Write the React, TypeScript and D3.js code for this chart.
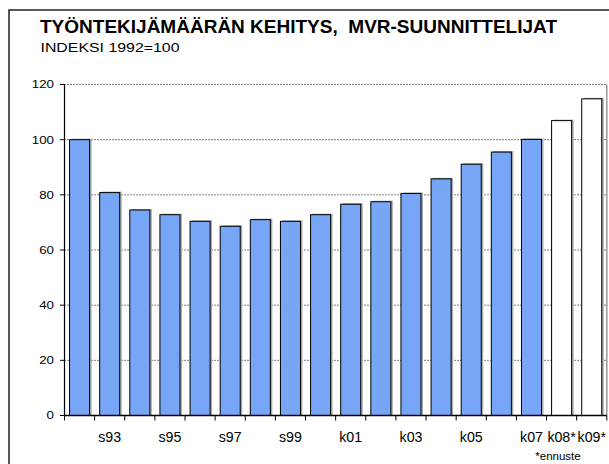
import * as d3 from "d3";

const years = ["1992", "1993", "1994", "1995", "1996", "1997", "1998", "1999", "2000", "2001", "2002", "2003", "2004", "2005", "2006", "2007", "2008", "2009"];
const tickLabels = ["", "s93", "", "s95", "", "s97", "", "s99", "", "k01", "", "k03", "", "k05", "", "k07", "k08*", "k09*"];
const values = [100, 80.8, 74.5, 72.8, 70.4, 68.6, 71.0, 70.4, 72.8, 76.6, 77.5, 80.5, 85.8, 91.1, 95.5, 100.1, 106.9, 114.8];
const forecast = [false, false, false, false, false, false, false, false, false, false, false, false, false, false, false, false, true, true];
const yTicks = [0, 20, 40, 60, 80, 100, 120];

const W = 609;
const H = 464;
const font = "Arial, 'Liberation Sans', sans-serif";

export default function App() {
  const x = d3.scaleBand<string>().domain(years).range([64.5, 606.8]).paddingInner(0.335).paddingOuter(0.1675);
  const y = d3.scaleLinear().domain([0, 120]).range([415.5, 84.5]);
  const step = x.step();
  const left = 64.5;
  const right = 606.8;

  return (
    <div style={{ position: "fixed", left: 0, top: 0 }}>
      <svg width={W} height={H} style={{ display: "block", background: "#fff" }}>
        {/* outer frame, runs off the right and bottom */}
        <path d={`M9,${H + 2}V10H${W + 2}`} fill="none" stroke="#222" strokeWidth={1.5} />

        <text
          x={40}
          y={33.3}
          fontFamily={font}
          fontWeight="bold"
          fontSize={18.5}
          textLength={517}
          lengthAdjust="spacingAndGlyphs"
          style={{ whiteSpace: "pre" }}
        >
          {"TYÖNTEKIJÄMÄÄRÄN KEHITYS,  MVR-SUUNNITTELIJAT"}
        </text>
        <text x={40.5} y={51.7} fontFamily={font} fontSize={12.5} textLength={139} lengthAdjust="spacingAndGlyphs">
          INDEKSI 1992=100
        </text>

        {/* gridlines */}
        {yTicks.filter(t => t > 0).map(t => (
          <line key={t} x1={left} x2={right} y1={y(t)} y2={y(t)} stroke="#000" strokeWidth={1} strokeDasharray="1 2" />
        ))}
        <line x1={right} x2={right} y1={y(120)} y2={y(0)} stroke="#999" strokeWidth={1.5} />

        {/* bars */}
        {values.map((v, i) => {
          const bx = x(years[i])!;
          const by = y(v);
          const bh = y(0) - by;
          return (
            <g key={years[i]}>
              <rect x={bx + 2} y={by - 1} width={x.bandwidth()} height={bh + 1} fill="#aaa" />
              <rect
                x={bx}
                y={by}
                width={x.bandwidth()}
                height={bh}
                fill={forecast[i] ? "#fff" : "#78a6f6"}
                stroke="#000"
                strokeWidth={1}
              />
            </g>
          );
        })}

        {/* y axis */}
        <line x1={left} x2={left} y1={y(120)} y2={y(0)} stroke="#000" strokeWidth={1.2} />
        {yTicks.map(t => (
          <g key={t}>
            <line x1={left - 4.5} x2={left} y1={y(t)} y2={y(t)} stroke="#000" strokeWidth={1} />
            <text
              x={54}
              y={y(t)}
              dy="0.36em"
              textAnchor="end"
              fontFamily={font}
              fontSize={10.8}
              textLength={String(t).length * 7.4}
              lengthAdjust="spacingAndGlyphs"
            >
              {t}
            </text>
          </g>
        ))}

        {/* x axis */}
        <line x1={left} x2={right} y1={y(0)} y2={y(0)} stroke="#000" strokeWidth={1.5} />
        {d3.range(years.length + 1).map(i => (
          <line key={i} x1={left + i * step} x2={left + i * step} y1={y(0)} y2={y(0) + 5} stroke="#000" strokeWidth={1} />
        ))}
        {tickLabels.map((lab, i) =>
          lab ? (
            <text key={i} x={x(years[i])! + x.bandwidth() / 2} y={442.3} textAnchor="middle" fontFamily={font} fontSize={14.2}>
              {lab}
            </text>
          ) : null
        )}
        <text x={558} y={459.8} textAnchor="middle" fontFamily={font} fontSize={11.5}>
          *ennuste
        </text>
      </svg>
    </div>
  );
}
